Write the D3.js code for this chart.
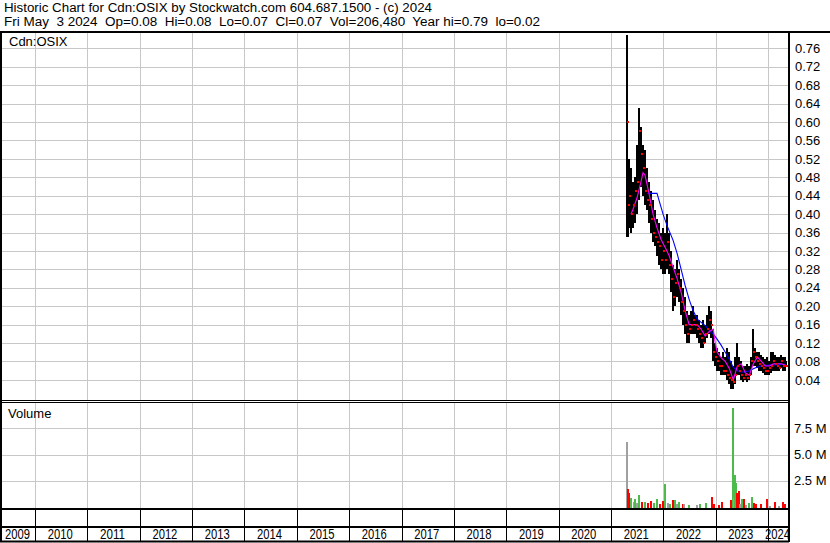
<!DOCTYPE html>
<html><head><meta charset="utf-8">
<script src="https://cdn.jsdelivr.net/npm/d3@7"></script>
<style>
html,body{margin:0;padding:0;background:#fff;}
svg{display:block;font-family:"Liberation Sans",Arial,sans-serif;}
</style></head><body>
<svg id="c" width="830" height="543"></svg>
<script>
// ---------- data ----------
const titleLine1 = "Historic Chart for Cdn:OSIX by Stockwatch.com 604.687.1500 - (c) 2024";
const titleLine2 = "Fri May  3 2024  Op=0.08  Hi=0.08  Lo=0.07  Cl=0.07  Vol=206,480  Year hi=0.79  lo=0.02";
const symbolLabel = "Cdn:OSIX";
const volumeLabel = "Volume";
const years = [2009,2010,2011,2012,2013,2014,2015,2016,2017,2018,2019,2020,2021,2022,2023,2024];
const priceTicks = [0.04,0.08,0.12,0.16,0.20,0.24,0.28,0.32,0.36,0.40,0.44,0.48,0.52,0.56,0.60,0.64,0.68,0.72,0.76];
const volTicks = [2.5,5.0,7.5];
const volTickLabels = ["2.5 M","5.0 M","7.5 M"];

const barDates = ["2021-04-22","2021-04-27","2021-05-06","2021-05-20","2021-06-03","2021-06-17","2021-07-01","2021-07-15","2021-07-29","2021-08-12","2021-08-26","2021-09-09","2021-09-23","2021-10-07","2021-10-21","2021-11-04","2021-11-18","2021-12-02","2021-12-16","2021-12-30",
"2022-01-13","2022-01-27","2022-02-10","2022-02-24","2022-03-10","2022-03-24","2022-04-07","2022-04-21","2022-05-05","2022-05-19","2022-06-02","2022-06-16","2022-06-30","2022-07-14","2022-07-28","2022-08-11","2022-08-25","2022-09-08","2022-09-22","2022-10-06","2022-10-20","2022-11-03","2022-11-17","2022-12-01","2022-12-15","2022-12-29",
"2023-01-12","2023-01-26","2023-02-09","2023-02-23","2023-03-09","2023-03-23","2023-04-06","2023-04-20","2023-05-04","2023-05-18","2023-06-01","2023-06-15","2023-06-29","2023-07-13","2023-07-27","2023-08-10","2023-08-24","2023-09-07","2023-09-21","2023-10-05","2023-10-19","2023-11-02","2023-11-16","2023-11-30","2023-12-14","2023-12-28",
"2024-01-11","2024-01-25","2024-02-08","2024-02-22","2024-03-07","2024-03-21","2024-04-04","2024-04-18","2024-05-02","2024-05-03"];
const barHigh = [0.79,0.52,0.52,0.50,0.47,0.48,0.55,0.63,0.59,0.55,0.54,0.50,0.47,0.45,0.43,0.41,0.39,0.38,0.36,0.37,
0.36,0.40,0.36,0.32,0.29,0.28,0.30,0.28,0.26,0.24,0.22,0.19,0.18,0.19,0.20,0.18,0.18,0.17,0.16,0.17,0.16,0.18,0.20,0.19,0.15,0.12,
0.11,0.10,0.09,0.10,0.09,0.11,0.10,0.08,0.07,0.09,0.12,0.09,0.08,0.07,0.07,0.075,0.07,0.09,0.15,0.11,0.10,0.10,0.095,0.09,0.085,0.09,
0.08,0.10,0.10,0.095,0.09,0.09,0.095,0.09,0.09,0.08];
const barLow = [0.35,0.35,0.37,0.36,0.37,0.38,0.40,0.43,0.46,0.44,0.42,0.41,0.38,0.36,0.34,0.33,0.31,0.29,0.28,0.27,
0.27,0.28,0.27,0.23,0.19,0.20,0.22,0.21,0.18,0.16,0.14,0.12,0.12,0.14,0.14,0.14,0.13,0.12,0.11,0.11,0.12,0.13,0.14,0.13,0.08,0.07,
0.06,0.06,0.05,0.05,0.05,0.04,0.03,0.02,0.02,0.03,0.05,0.05,0.04,0.035,0.04,0.035,0.04,0.05,0.07,0.07,0.065,0.06,0.06,0.055,0.05,0.05,
0.05,0.055,0.06,0.06,0.06,0.06,0.065,0.06,0.06,0.07];
const barClose = [0.60,0.42,0.44,0.40,0.42,0.45,0.47,0.58,0.53,0.50,0.45,0.43,0.42,0.39,0.36,0.35,0.34,0.33,0.30,0.32,
0.30,0.34,0.29,0.26,0.22,0.25,0.27,0.24,0.21,0.19,0.16,0.14,0.15,0.16,0.17,0.16,0.15,0.14,0.13,0.12,0.14,0.15,0.17,0.16,0.10,0.09,
0.08,0.07,0.07,0.06,0.06,0.05,0.045,0.04,0.035,0.05,0.07,0.06,0.05,0.045,0.05,0.045,0.05,0.08,0.10,0.09,0.08,0.075,0.07,0.065,0.06,0.06,
0.065,0.07,0.08,0.075,0.07,0.065,0.08,0.07,0.07,0.07];

const maShortDates = ["2021-05-20","2021-06-03","2021-07-01","2021-07-29","2021-08-12","2021-08-26","2021-09-09","2021-09-23","2021-10-21","2021-11-18","2021-12-16",
"2022-01-13","2022-02-10","2022-03-10","2022-04-07","2022-05-05","2022-06-02","2022-06-30","2022-07-28","2022-08-25","2022-09-22","2022-10-20","2022-11-17","2022-12-15","2022-12-29",
"2023-01-12","2023-02-09","2023-03-09","2023-04-06","2023-05-04","2023-06-01","2023-06-29","2023-07-27","2023-08-24","2023-09-21","2023-10-19","2023-11-16","2023-12-14",
"2024-01-11","2024-02-08","2024-03-07","2024-04-04","2024-05-02"];
const maShortValues = [0.40,0.41,0.435,0.47,0.49,0.485,0.465,0.445,0.40,0.37,0.345,
0.328,0.31,0.285,0.26,0.23,0.19,0.16,0.16,0.16,0.15,0.135,0.145,0.15,0.12,
0.10,0.088,0.08,0.065,0.04,0.07,0.075,0.055,0.05,0.075,0.09,0.08,0.07,
0.07,0.075,0.075,0.075,0.072];

const maLongDates = ["2021-09-09","2021-11-18","2021-12-02","2021-12-30","2022-01-27","2022-03-10","2022-04-07","2022-05-05","2022-06-02","2022-06-30","2022-07-28","2022-08-25","2022-09-22","2022-10-20","2022-11-17","2022-12-15",
"2023-01-12","2023-02-09","2023-03-09","2023-04-06","2023-05-04","2023-06-01","2023-06-29","2023-07-27","2023-08-24","2023-09-21","2023-10-19","2023-11-16","2024-01-11","2024-03-07","2024-05-02"];
const maLongValues = [0.445,0.445,0.43,0.40,0.375,0.343,0.315,0.28,0.245,0.215,0.19,0.172,0.165,0.158,0.148,0.14,
0.128,0.115,0.10,0.085,0.067,0.06,0.057,0.057,0.06,0.064,0.068,0.07,0.072,0.073,0.074];

const volDates = ["2021-04-22","2021-04-30","2021-05-08","2021-05-22","2021-06-11","2021-06-19","2021-07-03","2021-07-17","2021-08-05","2021-08-26","2021-09-16","2021-10-07","2021-10-28","2021-11-18","2021-12-09",
"2022-01-02","2022-01-16","2022-02-03","2022-02-17","2022-03-10","2022-03-22","2022-04-07","2022-04-21","2022-05-15","2022-05-26","2022-06-30","2022-08-25","2022-09-15","2022-10-27","2022-12-04","2022-12-18",
"2023-01-26","2023-02-12","2023-04-16","2023-04-29","2023-05-06","2023-05-13","2023-05-23","2023-06-01","2023-06-12","2023-06-22","2023-07-06","2023-07-17","2023-08-03","2023-08-21","2023-09-11","2023-09-25","2023-10-12","2023-11-16","2023-12-28",
"2024-01-18","2024-02-22","2024-03-21","2024-04-18","2024-05-01"];
const volValues = [6.2,1.7,1.3,0.85,0.45,0.8,0.4,1.15,0.5,0.45,0.4,0.55,0.35,0.75,0.3,
0.6,2.2,0.35,0.3,0.65,0.65,0.3,0.45,0.3,0.25,0.2,0.15,0.3,0.4,1.0,0.3,
0.2,0.5,0.65,9.46,0.9,3.05,2.3,1.37,1.55,0.3,0.75,0.75,0.2,0.4,1.0,0.4,0.25,0.25,0.75,
0.1,0.45,0.1,0.45,0.25];
const volDir = ["n","d","d","u","n","u","n","u","d","u","d","d","u","u","d",
"d","u","n","u","d","u","n","u","d","n","u","n","u","u","d","d",
"d","d","d","u","n","u","u","d","d","n","u","d","n","u","u","d","d","d","d",
"n","d","n","d","d"];

// ---------- layout ----------
const svg = d3.select("#c");
const L = 2, R = 789, TOP = 32, P_BOT = 400, V_TOP = 402, V_BOT = 509, STRIP_BOT = 527, LAB_BOT = 541;
const parse = d3.timeParse("%Y-%m-%d");
const x = d3.scaleTime().domain([new Date(2010,0,1), new Date(2024,0,1)]).range([35,768]);
const yP = d3.scaleLinear().domain([0,0.76]).range([398.3,48.4]);
const yV = d3.scaleLinear().domain([0,10]).range([507,402]);
const GRID = "#c8c8c8";
const crisp = v => Math.round(v) + 0.5;

svg.append("rect").attr("width",830).attr("height",543).attr("fill","#fff");

// header text
svg.append("text").attr("x",4).attr("y",12).attr("font-size",12.5).attr("fill","#000")
  .attr("textLength",428).attr("lengthAdjust","spacingAndGlyphs").text(titleLine1);
svg.append("text").attr("x",4).attr("y",26).attr("font-size",12.5).attr("fill","#000")
  .attr("xml:space","preserve").style("white-space","pre")
  .attr("textLength",536).attr("lengthAdjust","spacingAndGlyphs").text(titleLine2);

const yearStarts = years.slice(1).map(y => x(new Date(y,0,1)));

// price grid
const gP = svg.append("g");
gP.selectAll("line.h").data(priceTicks).join("line")
  .attr("x1",L).attr("x2",R).attr("y1",d=>crisp(yP(d))).attr("y2",d=>crisp(yP(d)))
  .attr("stroke",GRID).attr("stroke-width",1);
gP.selectAll("line.v").data(yearStarts).join("line")
  .attr("x1",d=>crisp(d)).attr("x2",d=>crisp(d)).attr("y1",TOP).attr("y2",P_BOT)
  .attr("stroke",GRID).attr("stroke-width",1);

// volume grid
const gV = svg.append("g");
gV.selectAll("line.h").data(volTicks).join("line")
  .attr("x1",L).attr("x2",R).attr("y1",d=>crisp(yV(d))).attr("y2",d=>crisp(yV(d)))
  .attr("stroke",GRID).attr("stroke-width",1);
gV.selectAll("line.v").data(yearStarts).join("line")
  .attr("x1",d=>crisp(d)).attr("x2",d=>crisp(d)).attr("y1",V_TOP).attr("y2",V_BOT)
  .attr("stroke",GRID).attr("stroke-width",1);

// clip paths
const defs = svg.append("defs");
defs.append("clipPath").attr("id","cp").append("rect").attr("x",L).attr("y",TOP+1).attr("width",R-L-1).attr("height",P_BOT-TOP-1);
defs.append("clipPath").attr("id","cv").append("rect").attr("x",L).attr("y",V_TOP+1).attr("width",R-L-1).attr("height",V_BOT-V_TOP-2);

// volume bars
const volColor = {u:"#4cbb4c", d:"#ff0000", n:"#a0a0a0"};
svg.append("g").attr("clip-path","url(#cv)").selectAll("rect").data(volDates.map((d,i)=>({d:parse(d),v:volValues[i],c:volDir[i]})))
  .join("rect")
  .attr("x",d=>Math.round(x(d.d))-1).attr("width",2)
  .attr("y",d=>Math.round(yV(d.v))).attr("height",d=>V_BOT-1-Math.round(yV(d.v)))
  .attr("fill",d=>volColor[d.c]);

// price bars
const bars = barDates.map((d,i)=>({d:parse(d),h:barHigh[i],l:barLow[i],c:barClose[i]}));
const gBars = svg.append("g").attr("clip-path","url(#cp)");
gBars.selectAll("rect.bar").data(bars).join("rect")
  .attr("x",d=>Math.round(x(d.d))-1).attr("width",2)
  .attr("y",d=>Math.round(yP(d.h))).attr("height",d=>Math.max(1,Math.round(yP(d.l))-Math.round(yP(d.h))))
  .attr("fill","#000");

// moving averages
const lineGen = d3.line().x(d=>x(d.d)).y(d=>yP(d.v));
gBars.append("path").datum(maLongDates.map((d,i)=>({d:parse(d),v:maLongValues[i]})))
  .attr("d",lineGen).attr("fill","none").attr("stroke","#0000ff").attr("stroke-width",1.1);
gBars.append("path").datum(maShortDates.map((d,i)=>({d:parse(d),v:maShortValues[i]})))
  .attr("d",lineGen).attr("fill","none").attr("stroke","#ff00ff").attr("stroke-width",1.1);

// close markers
gBars.selectAll("rect.cl").data(bars).join("rect")
  .attr("x",d=>Math.round(x(d.d))).attr("width",2)
  .attr("y",d=>Math.round(yP(d.c))-1).attr("height",2)
  .attr("fill","#ff0000");

// panel labels
svg.append("text").attr("x",9).attr("y",46).attr("font-size",13).text(symbolLabel);
svg.append("text").attr("x",8).attr("y",418).attr("font-size",13).text(volumeLabel);

// axes
const axP = svg.append("g").attr("transform",`translate(${R+3},0)`)
  .call(d3.axisRight(yP).tickValues(priceTicks).tickFormat(d3.format(".2f")).tickSize(0).tickPadding(3));
axP.select(".domain").remove();
axP.selectAll("text").attr("font-size",13).attr("font-family","Liberation Sans, Arial, sans-serif").attr("fill","#000");

const axV = svg.append("g").attr("transform",`translate(${R+2},0)`)
  .call(d3.axisRight(yV).tickValues(volTicks).tickFormat((d,i)=>volTickLabels[i]).tickSize(0).tickPadding(3));
axV.select(".domain").remove();
axV.selectAll("text").attr("font-size",13).attr("font-family","Liberation Sans, Arial, sans-serif").attr("fill","#000");

// year separators and labels
const gY = svg.append("g");
gY.selectAll("line").data(yearStarts).join("line")
  .attr("x1",d=>crisp(d)).attr("x2",d=>crisp(d)).attr("y1",V_BOT).attr("y2",LAB_BOT)
  .attr("stroke","#000").attr("stroke-width",1);
gY.selectAll("text").data(years).join("text")
  .attr("x",(y,i)=>{const a=Math.max(L,x(new Date(y,0,1))); const b=Math.min(R,x(new Date(y+1,0,1))); return (a+b)/2-1;})
  .attr("y",539).attr("text-anchor","middle")
  .attr("font-family","'Liberation Sans Narrow','Arial Narrow','Liberation Sans',sans-serif")
  .attr("font-size",15).attr("textLength",25).attr("lengthAdjust","spacingAndGlyphs")
  .text(d=>d);

// frame lines
const blk = (x1,y1,x2,y2,w)=>svg.append("line").attr("x1",x1).attr("y1",y1).attr("x2",x2).attr("y2",y2).attr("stroke","#000").attr("stroke-width",w);
blk(0,TOP,830,TOP,2);
blk(0,P_BOT+0.5,R,P_BOT+0.5,1);
blk(0,V_TOP+0.5,R,V_TOP+0.5,1);
blk(0,V_BOT,R,V_BOT,2);
blk(0,STRIP_BOT,R,STRIP_BOT,2);
blk(0,LAB_BOT+0.5,R,LAB_BOT+0.5,2);
blk(1,TOP,1,LAB_BOT+1,2);
blk(R,TOP,R,LAB_BOT+1,2);
</script>
</body></html>
